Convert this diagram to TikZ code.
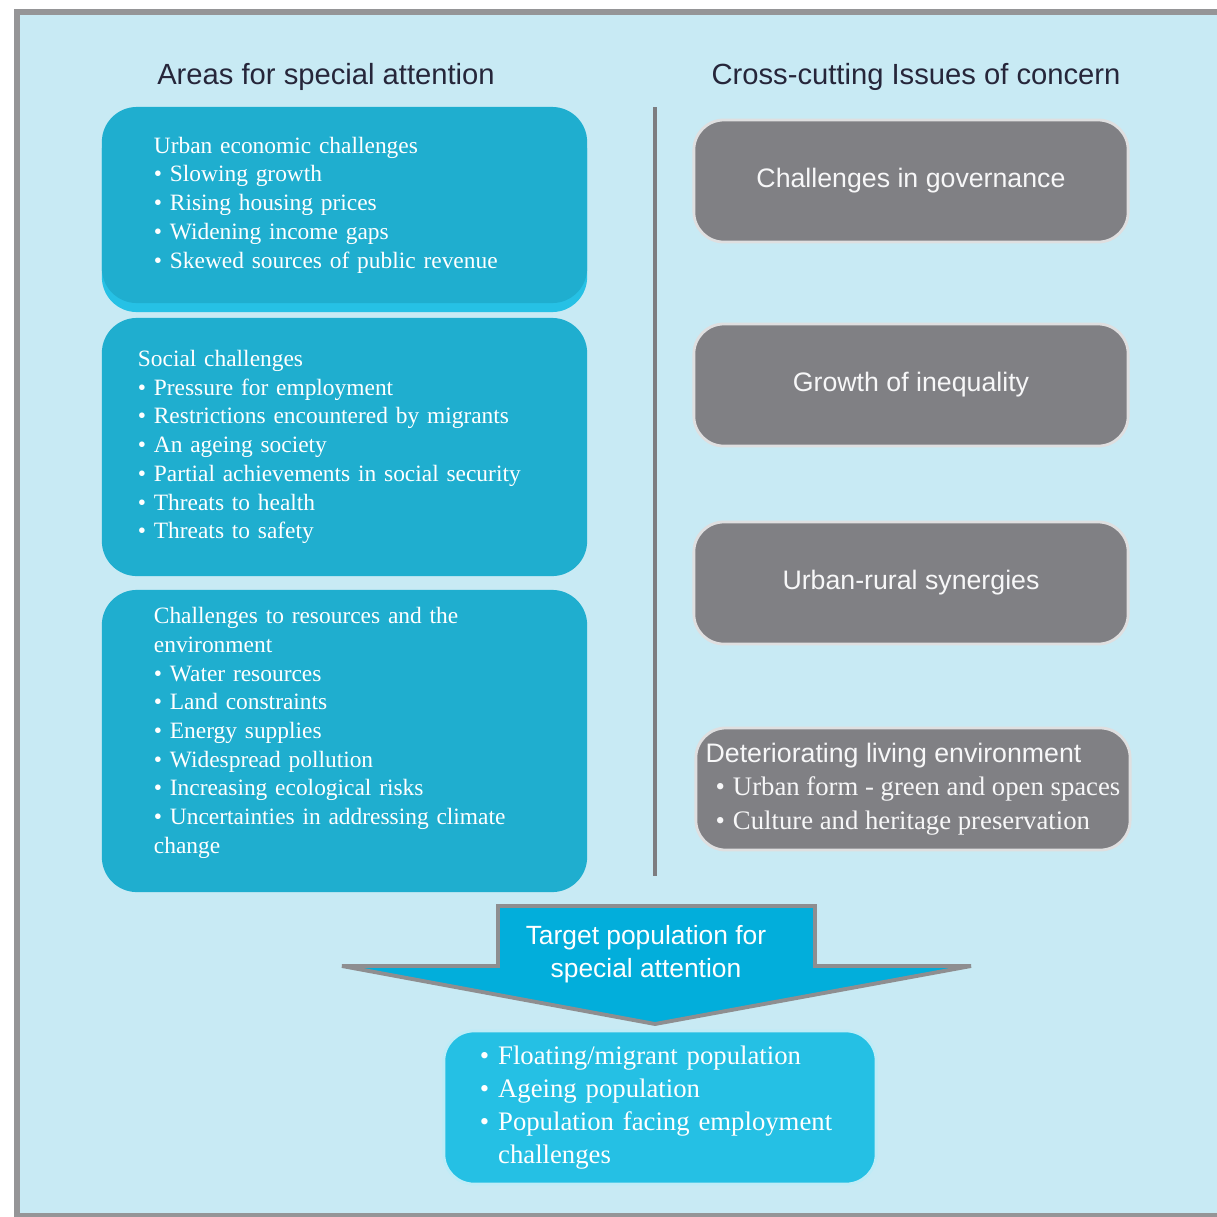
\documentclass[tikz,border=0pt]{standalone}
\usepackage{fontspec}
\setmainfont{Liberation Serif}
\setsansfont{Liberation Sans}
\usetikzlibrary{positioning}
\definecolor{sky}{HTML}{C8EAF4}
\definecolor{framegray}{HTML}{959597}
\definecolor{areablue}{HTML}{1FAECF}
\definecolor{areaglow}{HTML}{26C1E5}
\definecolor{issuegray}{HTML}{808084}
\definecolor{arrowblue}{HTML}{02AEDB}
\definecolor{arrowrim}{HTML}{8E8E90}
\definecolor{targetblue}{HTML}{25C0E4}
\definecolor{headink}{HTML}{26263A}
\definecolor{divider}{HTML}{7D7D80}

\begin{document}
\begin{tikzpicture}[
  x=0.01cm, y=-0.01cm,
  head/.style={font=\sffamily\fontsize{8.3}{10}\selectfont, text=headink},
  area/.style={fill=areablue, rounded corners=0.35cm, minimum width=4.85cm,
               text=white, align=left, font=\fontsize{6.66}{8.17}\selectfont},
  issue/.style={fill=issuegray, draw=white!75!issuegray, line width=0.8pt,
                rounded corners=0.3cm, minimum width=4.34cm, minimum height=1.22cm,
                text=white!94!issuegray, font=\sffamily\fontsize{7.6}{9.5}\selectfont},
  target/.style={fill=targetblue, draw=white!70!targetblue, line width=0.8pt,
                 rounded corners=0.3cm, minimum width=4.32cm, minimum height=1.53cm,
                 text width=3.6cm, inner xsep=0.36cm, align=left, text=white,
                 font=\fontsize{7.6}{9.4}\selectfont},
  bigarrow/.style={draw=arrowrim, fill=arrowblue, line width=1.1pt, line join=miter},
  rulebar/.style={draw=divider, line width=1.15pt},
]
\useasboundingbox (0,0) rectangle (1217,1217);
\fill[white] (0,0) rectangle (1217,1217);
\draw[framegray, line width=1.7pt, fill=sky] (17,12) rectangle (1260,1216);

% column headings
\node[head] (areasHead) at (326,77) {Areas for special attention};
\node[head] (issuesHead) at (916,77) {Cross-cutting Issues of concern};

% areas for special attention
\node[area, fill=areaglow, minimum height=1.96cm] (econGlow) at (344.5,214) {};
\node[area, minimum height=1.96cm, inner xsep=0.52cm, text width=3.81cm] (econ) at (344.5,205)
  {Urban economic challenges\\
   • Slowing growth\\
   • Rising housing prices\\
   • Widening income gaps\\
   • Skewed sources of public revenue};

\node[area, minimum height=2.58cm, inner xsep=0.36cm, text width=4.13cm] (social) at (344.5,447)
  {Social challenges\\
   • Pressure for employment\\
   • Restrictions encountered by migrants\\
   • An ageing society\\
   • Partial achievements in social security\\
   • Threats to health\\
   • Threats to safety};

\node[area, minimum height=3.02cm, inner xsep=0.52cm, text width=3.81cm, text depth=2.51cm] (resource) at (344.5,741)
  {Challenges to resources and the\\
   environment\\
   • Water resources\\
   • Land constraints\\
   • Energy supplies\\
   • Widespread pollution\\
   • Increasing ecological risks\\
   • Uncertainties in addressing climate\\
   change};

\coordinate (divTop) at (655,107);
\coordinate (divBot) at (655,876);
\draw[rulebar] (divTop) -- (divBot);

% cross-cutting issues
\foreach \nm/\yy/\txt in {gov/181/Challenges in governance,
                          ineq/385/Growth of inequality,
                          synergy/583/Urban-rural synergies}
  \node[issue] (\nm) at (911,\yy) {\txt};

\node[issue, align=left, inner xsep=0.05cm, font=\rmfamily\fontsize{7.6}{9.5}\selectfont] (living) at (913,789)
  {{\sffamily\fontsize{7.6}{9.5}\selectfont Deteriorating living environment}\\
   \hspace*{0.1cm}•\hspace{0.08cm}Urban form - green and open spaces\\
   \hspace*{0.1cm}•\hspace{0.08cm}Culture and heritage preservation};

% target population
\draw[bigarrow] (498,906) -- (815,906) -- (815,966) -- (971,966) -- (655,1024)
  -- (342,966) -- (498,966) -- cycle;
\node[text=white, align=center, font=\sffamily\fontsize{7.5}{9.4}\selectfont] (targetHead) at (646,954)
  {Target population for\\ special attention};

\node[target] (targets) at (660,1107.5)
  {• Floating/migrant population\\
   • Ageing population\\
   • Population facing employment\\
   \hphantom{•}\ challenges};

\end{tikzpicture}
\end{document}
